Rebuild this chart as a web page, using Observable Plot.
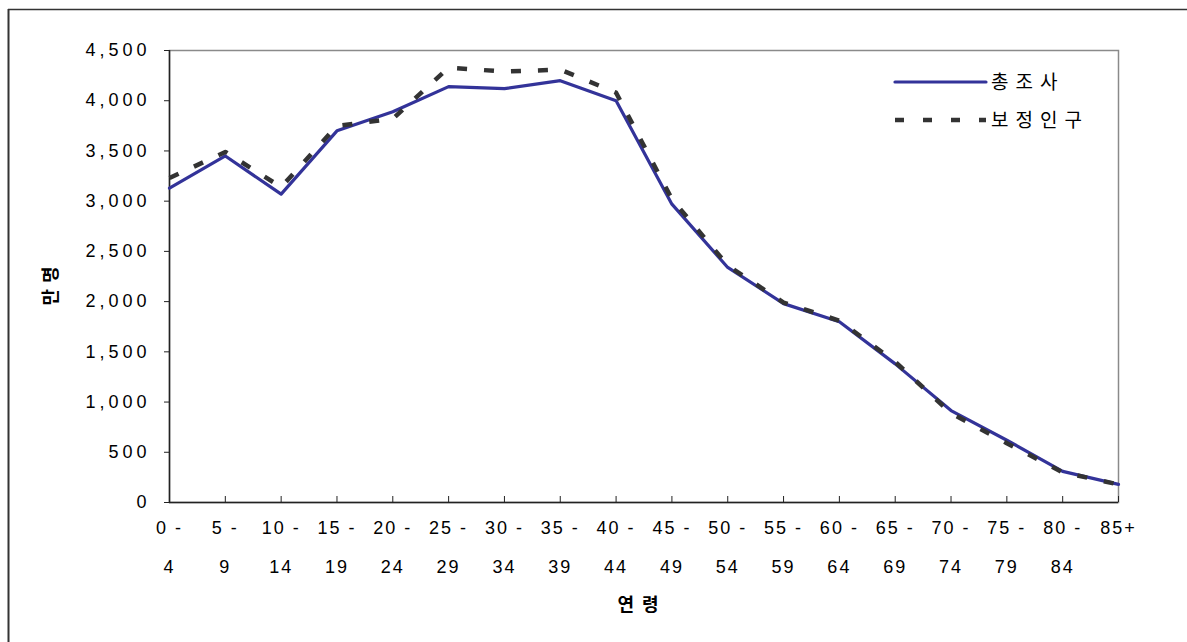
<!DOCTYPE html>
<html>
<head>
<meta charset="utf-8">
<script src="https://cdn.jsdelivr.net/npm/d3@7"></script>
<script src="https://cdn.jsdelivr.net/npm/@observablehq/plot@0.6"></script>
<style>
  html, body { margin: 0; padding: 0; background: #fff; }
  #chart svg { display: block; }
  #chart svg text { letter-spacing: 2px; }
  #chart svg g.yaxis text { letter-spacing: 4px; }
  #chart svg text.ko { font-family: "Noto Sans CJK KR", "Noto Sans", sans-serif; }
</style>
</head>
<body>
<div id="chart"></div>
<script>
// ---- data ----
const ageGroups = ["0-4","5-9","10-14","15-19","20-24","25-29","30-34","35-39","40-44","45-49","50-54","55-59","60-64","65-69","70-74","75-79","80-84","85+"];
const tickTop = ["0 -","5 -","10 -","15 -","20 -","25 -","30 -","35 -","40 -","45 -","50 -","55 -","60 -","65 -","70 -","75 -","80 -","85+"];
const tickBottom = ["4","9","14","19","24","29","34","39","44","49","54","59","64","69","74","79","84",""];
const census = [3130, 3450, 3070, 3700, 3890, 4140, 4120, 4200, 4000, 2970, 2340, 1980, 1800, 1380, 915, 620, 310, 180];
const adjusted = [3230, 3490, 3140, 3750, 3820, 4330, 4290, 4310, 4080, 3020, 2360, 1990, 1810, 1400, 890, 590, 300, 180];
const yTicks = [0, 500, 1000, 1500, 2000, 2500, 3000, 3500, 4000, 4500];
const seriesNames = ["총조사", "보정인구"];
const xTitle = "연 령";
const yTitle = "만명";

const blue = "#333399";
const dark = "#333333";

const idx = d => ageGroups.indexOf(d);

const chart = Plot.plot({
  width: 1187,
  height: 642,
  marginLeft: 169,
  marginRight: 69,
  marginTop: 50,
  marginBottom: 140,
  style: { fontFamily: "'Liberation Sans', Arial, sans-serif", fontSize: "18px", background: "#fff", color: "#000", overflow: "visible" },
  x: { type: "point", domain: ageGroups, padding: 0, round: false, label: null },
  y: { domain: [0, 4500], label: null },
  marks: [
    Plot.frame({ stroke: "#8a8a8a", strokeWidth: 1.5 }),
    Plot.ruleY([0], { stroke: "#222", strokeWidth: 1.5 }),
    Plot.ruleX([ageGroups[0]], { stroke: "#222", strokeWidth: 1.5 }),
    Plot.ruleX(ageGroups, { insetTop: 446, stroke: "#222", strokeWidth: 1 }),
    Plot.axisY({ ticks: yTicks, tickSize: 5, tickPadding: 14, tickFormat: d3.format(","), label: null, stroke: "#222", fill: "#000", fontSize: 18, className: "yaxis" }),
    Plot.axisX({ tickSize: 0, tickPadding: 19, tickFormat: d => tickTop[idx(d)], label: null, fill: "#000", fontSize: 18 }),
    Plot.axisX({ tickSize: 0, tickPadding: 58, tickFormat: d => tickBottom[idx(d)], label: null, fill: "#000", fontSize: 18 }),
    Plot.line(ageGroups, { x: d => d, y: d => census[idx(d)], stroke: blue, strokeWidth: 3.2 }),
    Plot.line(ageGroups, { x: d => d, y: d => adjusted[idx(d)], stroke: dark, strokeWidth: 4.5, strokeDasharray: "10,17", strokeLinecap: "butt" })
  ]
});

document.getElementById("chart").appendChild(chart);

const svg = d3.select(chart);
// make y tick labels wider-spaced like the original
svg.selectAll("g[aria-label='y-axis tick label'] text").style("letter-spacing", "4px");

// outer chart-area frame (left and top edges visible)
svg.append("line").attr("x1", 8.5).attr("x2", 8.5).attr("y1", 9).attr("y2", 642).attr("stroke", "#333").attr("stroke-width", 2);
svg.append("line").attr("x1", 8).attr("x2", 1187).attr("y1", 9.5).attr("y2", 9.5).attr("stroke", "#333").attr("stroke-width", 1.5);

// legend
const legend = svg.append("g").attr("text-anchor", "start");
const legendRows = [
  { name: seriesNames[0], y: 82, stroke: blue, width: 3.2, dash: null, cap: "round" },
  { name: seriesNames[1], y: 120, stroke: dark, width: 4.5, dash: "9,19", cap: "butt" }
];
legendRows.forEach(r => {
  const ln = legend.append("line").attr("x1", 895).attr("x2", 986).attr("y1", r.y).attr("y2", r.y)
    .attr("stroke", r.stroke).attr("stroke-width", r.width).attr("stroke-linecap", r.cap);
  if (r.dash) ln.attr("stroke-dasharray", r.dash);
  legend.append("text").attr("class", "ko").attr("x", 991).attr("y", r.y).attr("dy", "0.35em")
    .attr("text-anchor", "start").attr("font-size", 19).attr("fill", "#000").style("letter-spacing", "7px").text(r.name);
});

// axis titles
svg.append("text").attr("class", "ko").attr("x", 639).attr("y", 605).attr("dy", "0.35em")
  .attr("text-anchor", "middle").attr("font-weight", "bold").attr("font-size", 18).attr("fill", "#000")
  .style("letter-spacing", "2px").text(xTitle);
svg.append("text").attr("class", "ko").attr("transform", "translate(51,283) rotate(-90)").attr("dy", "0.35em")
  .attr("text-anchor", "middle").attr("font-weight", "bold").attr("font-size", 18).attr("fill", "#000")
  .style("letter-spacing", "6px").text(yTitle);
</script>
</body>
</html>
